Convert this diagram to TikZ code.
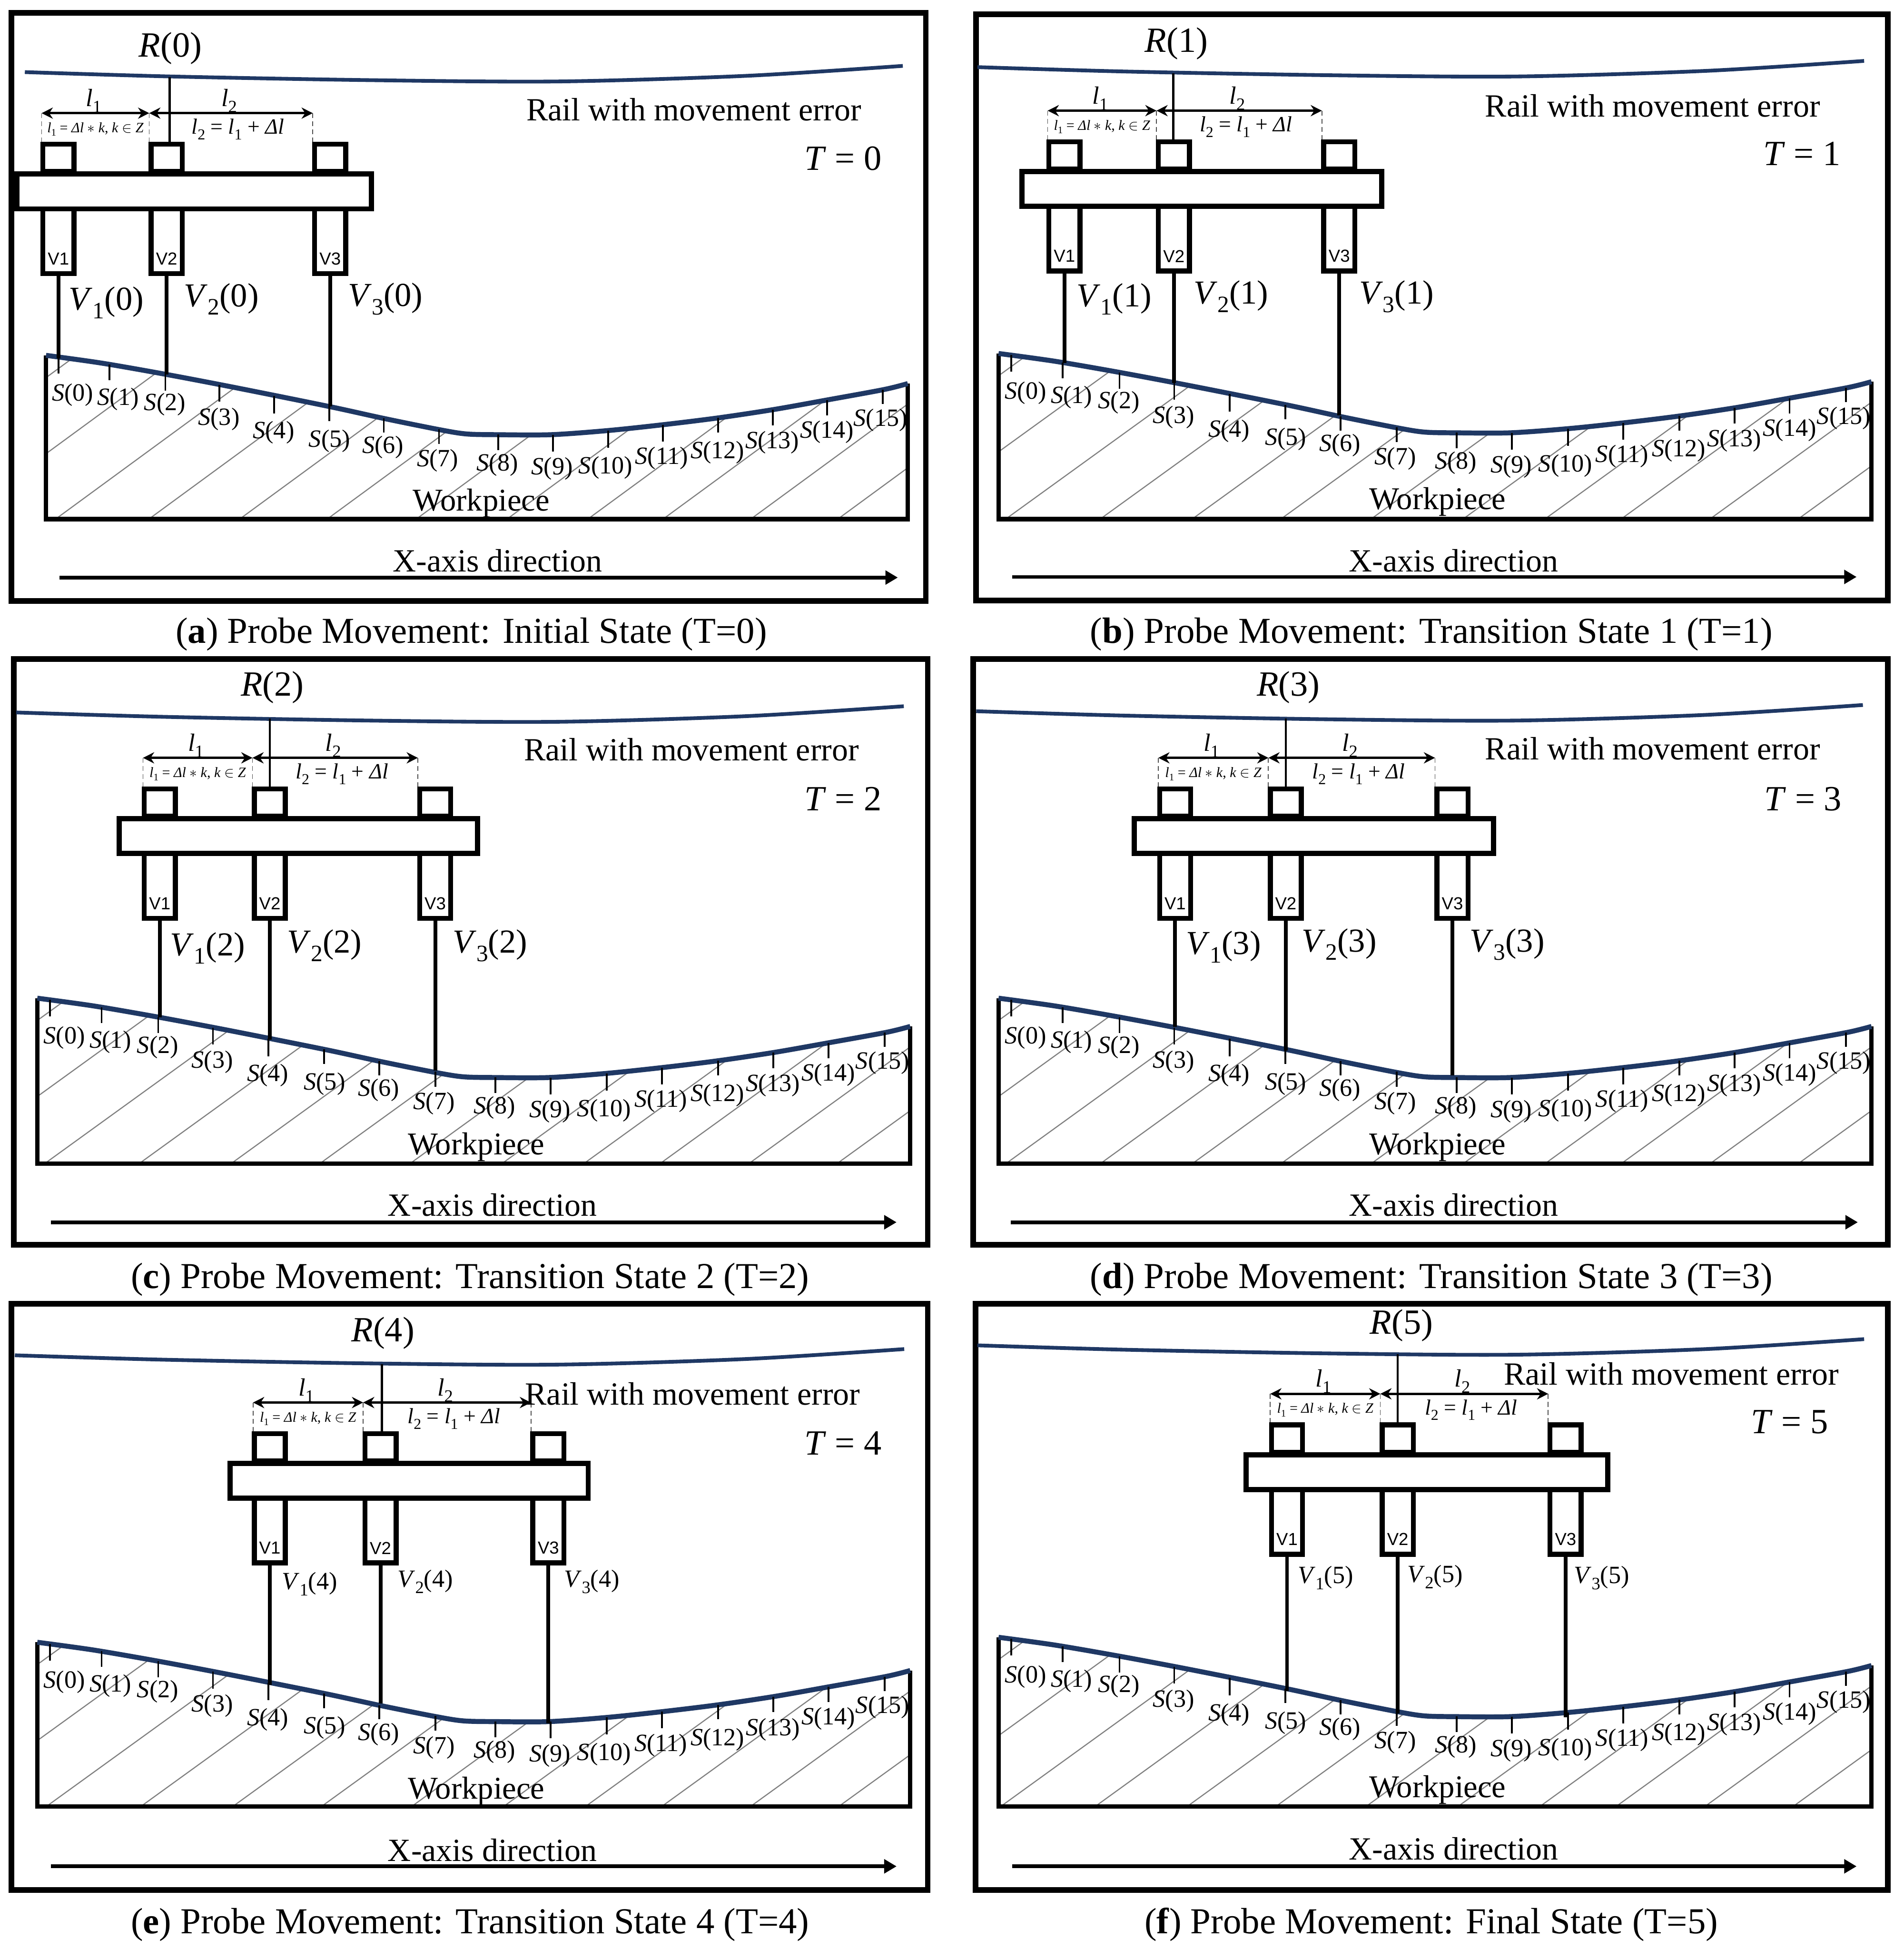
\documentclass[tikz,border=0pt]{standalone}
\usepackage{fontspec}
\usepackage{graphicx}
\setmainfont{Liberation Serif}
\newfontfamily\sansf{Liberation Sans}
\usetikzlibrary{arrows.meta,calc}
\definecolor{navy}{HTML}{1F3864}
\newcommand\Sbs[1]{\raisebox{-.25em}{\scalebox{.7}{#1}}}
\newcommand\Vv[2]{\textit{V}\Sbs{#1}(#2)}
\newcommand\Rr[1]{\textit{R}(#1)}
\newcommand\Ss[1]{\textit{S}(#1)}
\newcommand\Tt[1]{\textit{T} = #1}
\def\SurfPath{plot[smooth,tension=.5] coordinates {(37,285.8)(81.5,292)(133,301)(188,311.5)(265,327)(309,336.6)(353,345.5)(375,349)(400,349.6)(443,349.6)(488.6,346.3)(533,341.6)(577.5,336.1)(622,329.4)(665,321.7)(710.8,313.3)(730,308.5)}}
\def\RailPath{plot[smooth,tension=.5] coordinates {(20,58)(137,61.5)(300,64.5)(450,65.5)(600,61)(726,53)}}
\tikzset{
  framebox/.style={draw=black,line width=4.5pt,line join=miter},
  railline/.style={draw=navy,line width=3pt},
  surfline/.style={draw=navy,line width=4pt},
  bodyline/.style={draw=black,line width=3.5pt},
  hatchline/.style={draw=black!50,line width=.9pt},
  tickline/.style={draw=black,line width=1.4pt},
  stemline/.style={draw=black,line width=3pt},
  rodline/.style={draw=black,line width=1.8pt},
  dimline/.style={draw=black,line width=1.8pt,{Stealth[length=9pt,width=9pt]}-{Stealth[length=9pt,width=9pt]}},
  dashline/.style={draw=black!70,line width=.7pt,dash pattern=on 4pt off 2.5pt},
  axisline/.style={draw=black,line width=3pt,-{Triangle[length=10pt,width=11pt]}},
  topbox/.style={draw=black,fill=white,line width=4pt,minimum width=25pt,minimum height=22pt,inner sep=0pt,outer sep=0pt},
  lowbox/.style={draw=black,fill=white,line width=4pt,minimum width=25pt,minimum height=52pt,inner sep=0pt,outer sep=0pt},
  barbox/.style={draw=black,fill=white,line width=4.2pt,minimum height=28pt,inner sep=0pt,outer sep=0pt},
  txtlab/.style={inner sep=0pt,outer sep=0pt,font=\fontsize{26}{28}\selectfont},
  worklab/.style={inner sep=0pt,outer sep=0pt,font=\fontsize{25.5}{28}\selectfont},
  captext/.style={inner sep=0pt,outer sep=0pt,font=\fontsize{29.4}{32}\selectfont},
  biglab/.style={inner sep=0pt,outer sep=0pt,font=\fontsize{27}{30}\selectfont},
  rlab/.style={inner sep=0pt,outer sep=0pt,font=\fontsize{28.5}{30}\selectfont},
  midlab/.style={inner sep=0pt,outer sep=0pt,font=\fontsize{20}{22}\selectfont},
  formlab/.style={inner sep=0pt,outer sep=0pt,font=\fontsize{17.5}{20}\selectfont},
  slab/.style={inner sep=0pt,outer sep=0pt,font=\fontsize{20}{22}\selectfont},
  vtag/.style={inner sep=0pt,outer sep=0pt,font=\sansf\fontsize{14}{15}\selectfont},
  tinylab/.style={inner sep=0pt,outer sep=0pt,font=\fontsize{11.5}{14}\selectfont},
}
% #1 prefix #2-#4 probe x #5 barL #6 barR #7 bar outer top #8 rod x #9 rod top
\newcommand\Probe[9]{%
  \coordinate (#1rt) at (#8,#9);
  \coordinate (#1a) at (#2-13.5,#7-47);
  \coordinate (#1b) at (#3-14,#7-47);
  \coordinate (#1c) at (#4-14,#7-47);
  \coordinate (#1a0) at (#2-13.5,#7-24);
  \coordinate (#1b0) at (#3-14,#7-24);
  \coordinate (#1c0) at (#4-14,#7-24);
  \node[topbox] (#1t1) at (#2,#7-11) {};
  \node[topbox] (#1t2) at (#3,#7-11) {};
  \node[topbox] (#1t3) at (#4,#7-11) {};
  \node[lowbox] (#1l1) at (#2,#7+56) {};
  \node[lowbox] (#1l2) at (#3,#7+56) {};
  \node[lowbox] (#1l3) at (#4,#7+56) {};
  \node[barbox,minimum width=#6-#5] (#1bar) at ({(#5+#6)/2},#7+16) {};
  \node[vtag] (#1v1) at (#2,#7+70) {V1};
  \node[vtag] (#1v2) at (#3,#7+70) {V2};
  \node[vtag] (#1v3) at (#4,#7+70) {V3};
  \draw[rodline] (#1rt) -- (#8,#7-24);
  \draw[dashline] (#1a) -- (#1a0);
  \draw[dashline] (#1b) -- (#1b0);
  \draw[dashline] (#1c) -- (#1c0);
  \draw[dimline] (#1a) -- (#1b);
  \draw[dimline] (#1b) -- (#1c);
  \node[midlab] (#1ll1) at ($(#1a)!.5!(#1b)+(-1.5,-10)$) {\textit{l}\Sbs{1}};
  \node[midlab] (#1ll2) at ($(#1b)!.5!(#1c)+(-1.5,-10)$) {\textit{l}\Sbs{2}};
  \node[tinylab] (#1f1) at ($(#1a)!.5!(#1b)+(0,13)$) {\textit{l}\Sbs{1} = \textit{Δl} $*$ \textit{k}, \textit{k} $\in$ \textit{Z}};
  \node[formlab] (#1f2) at ($(#1b)!.5!(#1c)+(5.5,13)$) {\textit{l}\Sbs{2} = \textit{l}\Sbs{1} + \textit{Δl}};
}
% #1 prefix #2 #3 #4 x, #5 #6 #7 y on surface
\newcommand\Stems[7]{%
  \coordinate (#1e1) at (#2,#5);
  \coordinate (#1e2) at (#3,#6);
  \coordinate (#1e3) at (#4,#7);
  \draw[stemline] (#1l1.south) -- (#1l1.south |- #1e1);
  \draw[stemline] (#1l2.south) -- (#1l2.south |- #1e2);
  \draw[stemline] (#1l3.south) -- (#1l3.south |- #1e3);
}
\newcommand\Rail[3]{%
  \begin{scope}[shift={(#1,#2)},xscale=#3]
    \draw[railline] \RailPath;
  \end{scope}
}
% #1 prefix #2 dx #3 dy #4 sx #5 local bottom
\newcommand\Work[5]{%
  \begin{scope}[shift={(#2,#3)},xscale=#4]
    \begin{scope}
      \clip \SurfPath -- (730,#5) -- (37,#5) -- cycle;
      \foreach \b in {-116,-32.5,47,122,195,265.4,337,410,475,535.5,606,676}
        \draw[hatchline] ({\b-1.365*20},435.8) -- ({\b+1.365*200},215.8);
    \end{scope}
    \draw[bodyline] (37,285.8) -- (37,#5) -- (730,#5) -- (730,308.5);
    \draw[surfline] \SurfPath;
    \foreach \x/\ya/\yb in {47/287/300.5,88/293/305.6,133/301/314,176.5/309.5/323,220.5/318.5/332.4,264.7/327/338.7,308.6/336.5/347.7,353/345/357,400.7/349.5/362,444.6/349.6/363,489/346.3/360,533/341.6/355,577.5/336.1/347.7,621.4/329.5/342,665/321.7/334,709.8/313.5/325}
      \draw[tickline] (\x,\ya) -- (\x,\yb);
    \foreach \k/\x/\y in {0/58.5/317.6,1/95/321,2/132.6/325.3,3/176/337,4/220/348,5/265/354.6,6/308/359.7,7/352/370.5,8/400/374,9/444/377,10/487/376,11/532/368.5,12/577/364,13/621/356,14/665/347.3,15/708/338}
      \node[slab] (#1s\k) at (\x,\y) {\Ss{\k}};
  \end{scope}
}
\begin{document}
\begin{tikzpicture}[x=1pt,y=-1pt]
\useasboundingbox[fill=white] (0,0) rectangle (1531,1567.5);
% ---------- (a)
\draw[framebox] (9.2,10.2) rectangle (744.5,483.3);
\Work{a}{0}{0}{1}{417.5}
\Rail{0}{0}{1}
\Probe{a}{47}{134}{265.5}{13.6}{298.5}{138}{136.5}{62}
\Stems{a}{46}{134}{265}{288}{301}{327}
\node[rlab] (aR) at (137,39) {\Rr{0}};
\node[biglab] (aV1) at (85.5,243.5) {\Vv{1}{0}};
\node[biglab] (aV2) at (178,240.5) {\Vv{2}{0}};
\node[biglab] (aV3) at (310,240.5) {\Vv{3}{0}};
\node[txtlab] (aRail) at (558,88) {Rail with movement error};
\node[rlab] (aT) at (678,127.5) {\Tt{0}};
\node[worklab] (aW) at (387,404.5) {Workpiece};
\node[txtlab] (aX) at (400,451) {X-axis direction};
\coordinate (aA0) at (48,464.5); \coordinate (aA1) at (722,464.5);
\draw[axisline] (aA0) -- (aA1);
\node[captext] (aC) at (379,510) {(\textbf{a}) Probe Movement: Initial State (T=0)};
% ---------- (b)
\draw[framebox] (785,11.5) rectangle (1518,483);
\Work{b}{765.5}{-1.5}{1.013}{419}
\Rail{765.8}{-4}{1.01}
\Probe{b}{856}{944}{1077}{822}{1111}{136}{943.5}{59}
\Stems{b}{855}{944}{1077}{292}{308}{334}
\node[rlab] (bR) at (946,35) {\Rr{1}};
\node[biglab] (bV1) at (896,240.5) {\Vv{1}{1}};
\node[biglab] (bV2) at (990,238.5) {\Vv{2}{1}};
\node[biglab] (bV3) at (1123,238.5) {\Vv{3}{1}};
\node[txtlab] (bRail) at (1329,85) {Rail with movement error};
\node[rlab] (bT) at (1449,123.5) {\Tt{1}};
\node[worklab] (bW) at (1156,403.5) {Workpiece};
\node[txtlab] (bX) at (1169,451) {X-axis direction};
\coordinate (bA0) at (814,464); \coordinate (bA1) at (1493,464);
\draw[axisline] (bA0) -- (bA1);
\node[captext] (bC) at (1151,510) {(\textbf{b}) Probe Movement: Transition State 1 (T=1)};
% ---------- (c)
\draw[framebox] (11,530) rectangle (746,1001);
\Work{c}{-7.5}{517}{1.013}{419}
\Rail{-7.2}{515}{1.011}
\Probe{c}{128.5}{217}{350}{96}{384}{656.5}{217}{578}
\Stems{c}{128}{217}{350}{818}{836}{861}
\node[rlab] (cR) at (219,553) {\Rr{2}};
\node[biglab] (cV1) at (167,762.5) {\Vv{1}{2}};
\node[biglab] (cV2) at (261,760.5) {\Vv{2}{2}};
\node[biglab] (cV3) at (394,760.5) {\Vv{3}{2}};
\node[txtlab] (cRail) at (556,603) {Rail with movement error};
\node[rlab] (cT) at (678,642.5) {\Tt{2}};
\node[worklab] (cW) at (383,922.5) {Workpiece};
\node[txtlab] (cX) at (396,969) {X-axis direction};
\coordinate (cA0) at (41,983); \coordinate (cA1) at (721,983);
\draw[axisline] (cA0) -- (cA1);
\node[captext] (cC) at (378,1029) {(\textbf{c}) Probe Movement: Transition State 2 (T=2)};
% ---------- (d)
\draw[framebox] (782.5,530) rectangle (1518,1001);
\Work{d}{765.5}{517}{1.013}{419}
\Rail{764.8}{514}{1.01}
\Probe{d}{945}{1034}{1168}{912}{1201}{656.5}{1034}{578}
\Stems{d}{945}{1034}{1168}{826}{845}{865}
\node[rlab] (dR) at (1036,553) {\Rr{3}};
\node[biglab] (dV1) at (984,761.5) {\Vv{1}{3}};
\node[biglab] (dV2) at (1077,759.5) {\Vv{2}{3}};
\node[biglab] (dV3) at (1212,759.5) {\Vv{3}{3}};
\node[txtlab] (dRail) at (1329,602) {Rail with movement error};
\node[rlab] (dT) at (1450,642.5) {\Tt{3}};
\node[worklab] (dW) at (1156,922.5) {Workpiece};
\node[txtlab] (dX) at (1169,969) {X-axis direction};
\coordinate (dA0) at (813,983); \coordinate (dA1) at (1494,983);
\draw[axisline] (dA0) -- (dA1);
\node[captext] (dC) at (1151,1029) {(\textbf{d}) Probe Movement: Transition State 3 (T=3)};
% ---------- (e)
\draw[framebox] (9.2,1048.5) rectangle (746,1520);
\Work{e}{-7.5}{1035}{1.013}{418}
\Rail{-8.3}{1032}{1.013}
\Probe{e}{217}{306}{441}{185}{473}{1175}{307}{1097}
\Stems{e}{217}{306}{441}{1355}{1370}{1386}
\node[rlab] (eR) at (308,1072) {\Rr{4}};
\node[midlab] (eV1) at (249,1274) {\Vv{1}{4}};
\node[midlab] (eV2) at (342,1272) {\Vv{2}{4}};
\node[midlab] (eV3) at (476,1272) {\Vv{3}{4}};
\node[txtlab] (eRail) at (557,1121) {Rail with movement error};
\node[rlab] (eT) at (678,1160.5) {\Tt{4}};
\node[worklab] (eW) at (383,1440.5) {Workpiece};
\node[txtlab] (eX) at (396,1488) {X-axis direction};
\coordinate (eA0) at (41,1501); \coordinate (eA1) at (721,1501);
\draw[axisline] (eA0) -- (eA1);
\node[captext] (eC) at (378,1548) {(\textbf{e}) Probe Movement: Transition State 4 (T=4)};
% ---------- (f)
\draw[framebox] (784.5,1048.5) rectangle (1518,1520);
\Work{f}{765.5}{1031}{1.013}{422}
\Rail{765.8}{1024}{1.01}
\Probe{f}{1035}{1124}{1259}{1002}{1293}{1168}{1124}{1089}
\Stems{f}{1035}{1124}{1259}{1360}{1378}{1381}
\node[rlab] (fR) at (1127,1066) {\Rr{5}};
\node[midlab] (fV1) at (1066,1269) {\Vv{1}{5}};
\node[midlab] (fV2) at (1154,1268) {\Vv{2}{5}};
\node[midlab] (fV3) at (1288,1269) {\Vv{3}{5}};
\node[txtlab] (fRail) at (1344,1105) {Rail with movement error};
\node[rlab] (fT) at (1439,1143.5) {\Tt{5}};
\node[worklab] (fW) at (1156,1439.5) {Workpiece};
\node[txtlab] (fX) at (1169,1487) {X-axis direction};
\coordinate (fA0) at (814,1501); \coordinate (fA1) at (1493,1501);
\draw[axisline] (fA0) -- (fA1);
\node[captext] (fC) at (1151,1548) {(\textbf{f}) Probe Movement: Final State (T=5)};
\end{tikzpicture}
\end{document}
